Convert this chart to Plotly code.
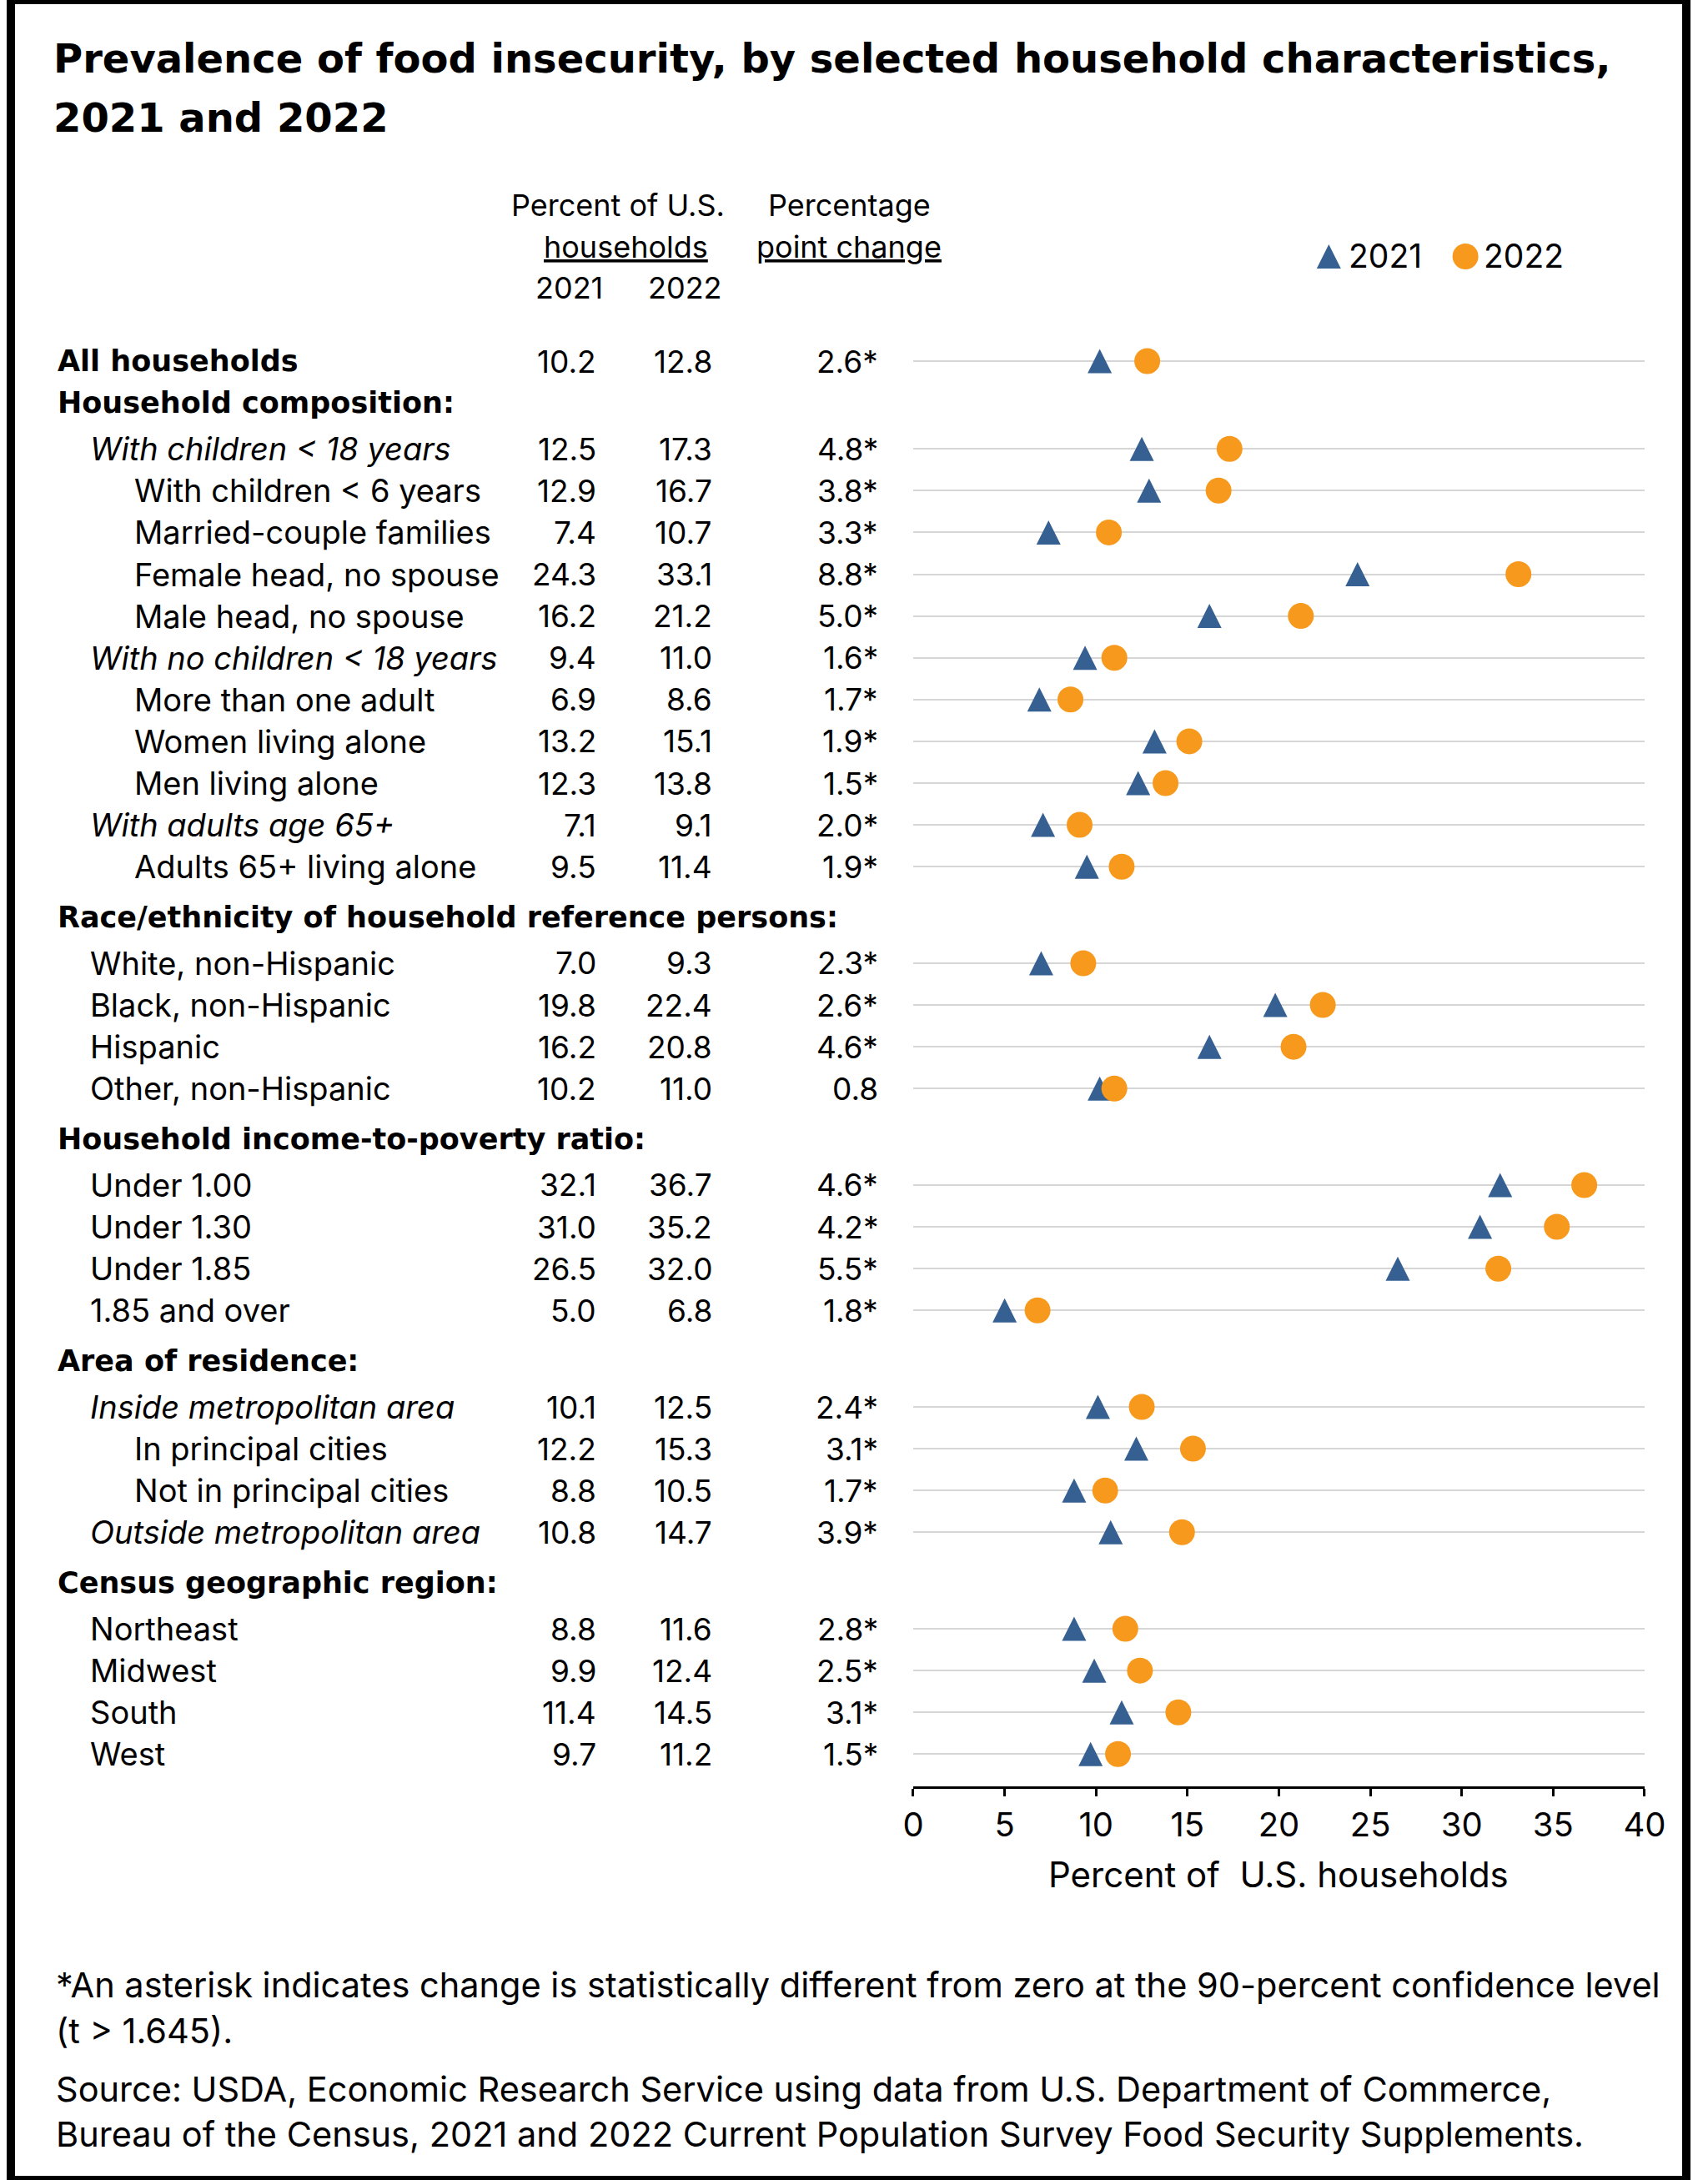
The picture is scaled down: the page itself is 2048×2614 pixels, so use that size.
import plotly.graph_objects as go

W, H = 2048, 2614
FONT = "Inter, 'Liberation Sans', Arial, sans-serif"
BOLD = "'DejaVu Sans', 'Liberation Sans', Arial, sans-serif"
BLUE = "#376092"
ORANGE = "#F7991D"

# ---- data -------------------------------------------------------------
labels = [
    "All households",
    "Household composition:",
    "With children < 18 years",
    "With children < 6 years",
    "Married-couple families",
    "Female head, no spouse",
    "Male head, no spouse",
    "With no children < 18 years",
    "More than one adult",
    "Women living alone",
    "Men living alone",
    "With adults age 65+",
    "Adults 65+ living alone",
    "Race/ethnicity of household reference persons:",
    "White, non-Hispanic",
    "Black, non-Hispanic",
    "Hispanic",
    "Other, non-Hispanic",
    "Household income-to-poverty ratio:",
    "Under 1.00",
    "Under 1.30",
    "Under 1.85",
    "1.85 and over",
    "Area of residence:",
    "Inside metropolitan area",
    "In principal cities",
    "Not in principal cities",
    "Outside metropolitan area",
    "Census geographic region:",
    "Northeast",
    "Midwest",
    "South",
    "West",
]
# total / head = bold, group = italic, item = plain, sub = plain indented twice
levels = ["total", "head",
          "group", "sub", "sub", "sub", "sub",
          "group", "sub", "sub", "sub",
          "group", "sub",
          "head", "item", "item", "item", "item",
          "head", "item", "item", "item", "item",
          "head", "group", "sub", "sub", "group",
          "head", "item", "item", "item", "item"]

pct_2021 = [10.2, None, 12.5, 12.9, 7.4, 24.3, 16.2, 9.4, 6.9, 13.2, 12.3, 7.1, 9.5,
            None, 7.0, 19.8, 16.2, 10.2,
            None, 32.1, 31.0, 26.5, 5.0,
            None, 10.1, 12.2, 8.8, 10.8,
            None, 8.8, 9.9, 11.4, 9.7]
pct_2022 = [12.8, None, 17.3, 16.7, 10.7, 33.1, 21.2, 11.0, 8.6, 15.1, 13.8, 9.1, 11.4,
            None, 9.3, 22.4, 20.8, 11.0,
            None, 36.7, 35.2, 32.0, 6.8,
            None, 12.5, 15.3, 10.5, 14.7,
            None, 11.6, 12.4, 14.5, 11.2]
change_pp = [2.6, None, 4.8, 3.8, 3.3, 8.8, 5.0, 1.6, 1.7, 1.9, 1.5, 2.0, 1.9,
             None, 2.3, 2.6, 4.6, 0.8,
             None, 4.6, 4.2, 5.5, 1.8,
             None, 2.4, 3.1, 1.7, 3.9,
             None, 2.8, 2.5, 3.1, 1.5]
significant = [1, 0, 1, 1, 1, 1, 1, 1, 1, 1, 1, 1, 1,
               0, 1, 1, 1, 0,
               0, 1, 1, 1, 1,
               0, 1, 1, 1, 1,
               0, 1, 1, 1, 1]
x_ticks = [0, 5, 10, 15, 20, 25, 30, 35, 40]

footnotes = [
    "*An asterisk indicates change is statistically different from zero at the 90-percent confidence level",
    "(t > 1.645).",
    "Source: USDA, Economic Research Service using data from U.S. Department of Commerce,",
    "Bureau of the Census, 2021 and 2022 Current Population Survey Food Security Supplements.",
]

# ---- row positions (row units, headers get a little extra room) -------
pos = []
p = -1.0
for i, lev in enumerate(levels):
    p += 1
    if lev == "head" and i > 1:
        p += 0.21
    if i > 0 and levels[i - 1] == "head":
        p += 0.1
    pos.append(p)

PITCH = 50.1   # px per row
TOP = 433      # px of first row
y_range = [(H - TOP) / PITCH, -TOP / PITCH]
data_rows = [pos[i] for i in range(len(labels)) if pct_2021[i] is not None]


def px_x(v):
    return v / W


def px_y(v):
    return 1 - v / H


# upward triangle centred on the point (arrow shape flipped, backed off half its height)
TRI = dict(symbol="arrow-down", angle=180, size=29, standoff=14.5, color=BLUE, line=dict(width=0))

fig = go.Figure()

fig.add_trace(go.Scatter(
    x=pct_2021, y=pos, mode="markers", name="2021",
    marker=TRI, showlegend=False, hoverinfo="skip"))
fig.add_trace(go.Scatter(
    x=pct_2022, y=pos, mode="markers", name="2022",
    marker=dict(symbol="circle", size=31, color=ORANGE, line=dict(width=0)),
    showlegend=False, hoverinfo="skip"))

# legend keys drawn on a pixel overlay (plotly legend caps symbol size)
fig.add_trace(go.Scatter(
    x=[1611], y=[307.5], xaxis="x2", yaxis="y2", mode="markers",
    marker=TRI, showlegend=False, hoverinfo="skip"))
fig.add_trace(go.Scatter(
    x=[1778], y=[307.5], xaxis="x2", yaxis="y2", mode="markers",
    marker=dict(symbol="circle", size=31, color=ORANGE),
    showlegend=False, hoverinfo="skip"))

ann = []

# title
ann.append(dict(text="<b>Prevalence of food insecurity, by selected household characteristics,</b>",
                x=px_x(50), y=px_y(70), xanchor="left", yanchor="middle",
                font=dict(size=48, family=BOLD, color="black")))
ann.append(dict(text="<b>2021 and 2022</b>",
                x=px_x(50), y=px_y(141), xanchor="left", yanchor="middle",
                font=dict(size=48, family=BOLD, color="black")))

# column headers
hdr_font = dict(size=36, family=FONT, color="black")
for txt, cx, cy in [("Percent of U.S.", 742, 246), ("<u>households</u>", 752, 296),
                    ("2021", 683, 345), ("2022", 824, 345),
                    ("Percentage", 1025, 246), ("<u>point change</u>", 1025, 296)]:
    ann.append(dict(text=txt, x=px_x(cx), y=px_y(cy), xanchor="center", yanchor="middle",
                    font=hdr_font))

# legend text
for txt, lx in [("2021", 1633), ("2022", 1798)]:
    ann.append(dict(text=txt, x=px_x(lx), y=px_y(307), xanchor="left", yanchor="middle",
                    font=dict(size=39, family=FONT, color="black")))

# table rows
label_x = {"total": 55, "head": 55, "group": 95, "item": 95, "sub": 149}
for i, lab in enumerate(labels):
    lev = levels[i]
    if lev in ("total", "head"):
        txt, fam, size = "<b>%s</b>" % lab, BOLD, 35
    elif lev == "group":
        txt, fam, size = "<i>%s</i>" % lab, FONT, 38
    else:
        txt, fam, size = lab, FONT, 38
    ann.append(dict(text=txt, x=px_x(label_x[lev]), y=pos[i], yref="y",
                    xanchor="left", yanchor="middle",
                    font=dict(size=size, family=fam, color="black")))
    if pct_2021[i] is None:
        continue
    chg = "%.1f%s" % (change_pp[i], "*" if significant[i] else "")
    for val, rx in [("%.1f" % pct_2021[i], 718), ("%.1f" % pct_2022[i], 859), (chg, 1062)]:
        ann.append(dict(text=val, x=px_x(rx), y=pos[i], yref="y",
                        xanchor="right", yanchor="middle",
                        font=dict(size=37, family=FONT, color="black")))

# axis title
ann.append(dict(text="Percent of&nbsp; U.S. households", x=px_x(1550), y=px_y(2247),
                xanchor="center", yanchor="middle",
                font=dict(size=42, family=FONT, color="black")))

# footnotes
for txt, fy in zip(footnotes, [2380, 2435, 2505, 2559]):
    ann.append(dict(text=txt, x=px_x(53), y=px_y(fy), xanchor="left", yanchor="middle",
                    font=dict(size=41.5, family=FONT, color="black")))

for a in ann:
    a.setdefault("xref", "paper")
    a.setdefault("yref", "paper")
    a["showarrow"] = False

fig.update_layout(
    width=W, height=H,
    margin=dict(l=0, r=0, t=0, b=0),
    paper_bgcolor="white",
    plot_bgcolor="rgba(0,0,0,0)",
    showlegend=False,
    annotations=ann,
    xaxis=dict(domain=[1103 / W, 1997 / W], range=[0, 40], anchor="free",
               position=px_y(2143), showline=True, linecolor="black", linewidth=3,
               ticks="outside", ticklen=9, tickwidth=3, tickcolor="black",
               tickvals=x_ticks, tickfont=dict(size=40, family=FONT, color="black"),
               ticklabelstandoff=0, showgrid=False, zeroline=False, fixedrange=True),
    yaxis=dict(domain=[0, 1], range=y_range, anchor="x", tickvals=data_rows,
               showticklabels=False, ticks="", showgrid=True, gridcolor="#D6D6D6",
               gridwidth=2, zeroline=False, showline=False, fixedrange=True),
    xaxis2=dict(domain=[0, 1], range=[0, W], anchor="y2", visible=False, fixedrange=True),
    yaxis2=dict(domain=[0, 1], range=[H, 0], anchor="x2", visible=False, fixedrange=True),
    shapes=[dict(type="rect", xref="paper", yref="paper", x0=0, x1=1, y0=0, y1=1,
                 line=dict(color="black", width=10), fillcolor="rgba(0,0,0,0)", layer="above")],
)

fig.write_html("out.html", config={"displayModeBar": False},
               post_script="document.body.style.margin='0';document.body.style.overflow='hidden';")
